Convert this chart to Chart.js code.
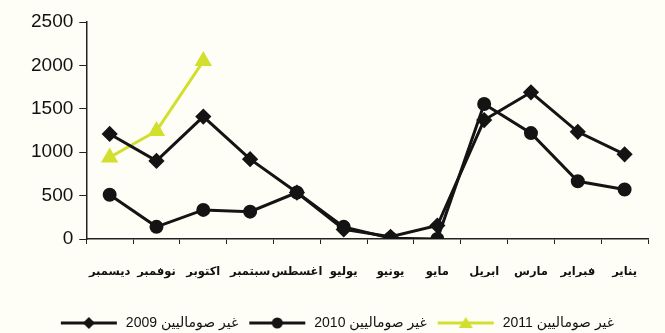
<!DOCTYPE html>
<html lang="ar">
<head>
<meta charset="UTF-8">
<title>chart</title>
<script src="https://cdn.jsdelivr.net/npm/chart.js"></script>
<style>
  body{margin:0; background:#fffef6;}
  #wrap{width:665px; height:333px;}
</style>
</head>
<body>
<div id="wrap"><canvas id="myChart"></canvas></div>
<script>
// labels as they read left to right in the picture
const months = ['ديسمبر','نوفمبر','اكتوبر','سبتمبر','اغسطس','يوليو','يونيو','مايو','ابريل','مارس','فبراير','يناير'];
const y2009 = [1210, 900, 1410, 920, 535, 110, 25, 155, 1370, 1690, 1235, 975];
const y2010 = [510, 140, 335, 315, 535, 140, 10, 0, 1555, 1220, 665, 570];
const y2011 = [940, 1245, 2050, null, null, null, null, null, null, null, null, null];
const names = ['2009 غير صوماليين', '2010 غير صوماليين', '2011 غير صوماليين'];
const yTicks = [0, 500, 1000, 1500, 2000, 2500];

const black = '#141414';
const yellow = '#d3df2e';

// small line + marker icon for the legend
function legendIcon(color, shape){
  const c = document.createElement('canvas');
  c.width = 60; c.height = 14;
  const g = c.getContext('2d');
  g.strokeStyle = color; g.fillStyle = color; g.lineWidth = 3;
  g.beginPath(); g.moveTo(2,7); g.lineTo(58,7); g.stroke();
  g.beginPath();
  if(shape === 'diamond'){ g.moveTo(30,1); g.lineTo(36,7); g.lineTo(30,13); g.lineTo(24,7); }
  else if(shape === 'circle'){ g.arc(30,7,5.5,0,Math.PI*2); }
  else { g.moveTo(30,1); g.lineTo(37,12); g.lineTo(23,12); }
  g.closePath(); g.fill();
  return c;
}
const icons = [legendIcon(black,'diamond'), legendIcon(black,'circle'), legendIcon(yellow,'triangle')];

const ctx = document.getElementById('myChart');
let configs = {
  type: 'line',
  data: {
    labels: months,
    datasets: [
      {label: names[0], data: y2009, borderColor: black, backgroundColor: black, borderWidth: 3,
       pointStyle: 'rectRot', pointRadius: 6},
      {label: names[1], data: y2010, borderColor: black, backgroundColor: black, borderWidth: 3,
       pointStyle: 'circle', pointRadius: 5.5},
      {label: names[2], data: y2011, borderColor: yellow, backgroundColor: yellow, borderWidth: 3,
       pointStyle: 'triangle', pointRadius: 7}
    ]
  },
  options: {
    responsive: false,
    animation: false,
    layout: {padding: {top: 22, right: 17, left: 25, bottom: -7}},
    elements: {line: {tension: 0}},
    plugins: {
      tooltip: {enabled: false},
      legend: {
        position: 'bottom',
        labels: {
          usePointStyle: true,
          pointStyleWidth: 60,
          color: '#111',
          font: {family: 'Arial, "DejaVu Sans"', size: 14},
          padding: 9,
          generateLabels: function(chart){
            return chart.data.datasets.map((d, i) => ({
              text: d.label, pointStyle: icons[i], fillStyle: d.borderColor,
              strokeStyle: d.borderColor, lineWidth: 0, datasetIndex: i, fontColor: '#111'
            }));
          }
        }
      }
    },
    scales: {
      x: {
        offset: true,
        afterFit: function(axis){ axis.height = 68; },
        grid: {display: true, drawOnChartArea: false, drawTicks: true, tickLength: 5, color: '#222', offset: true},
        border: {color: '#222', width: 1.5},
        ticks: {color: '#111', autoSkip: false, maxRotation: 0, padding: 21,
                font: {family: '"DejaVu Sans", Arial', size: 11.5, weight: 'bold'}}
      },
      y: {
        min: 0, max: 2500,
        afterBuildTicks: function(axis){ axis.ticks = yTicks.map(v => ({value: v})); },
        grid: {display: true, drawOnChartArea: false, drawTicks: true, tickLength: 7, color: '#222'},
        border: {color: '#222', width: 1.5},
        ticks: {color: '#111', padding: 6, font: {family: 'Arial, "Liberation Sans"', size: 19},
                callback: function(v){ return String(v); }}
      }
    }
  }
};
const cv = document.getElementById('myChart');
cv.width = 665; cv.height = 333;
let myChart = new Chart(ctx, configs);
</script>
</body>
</html>
